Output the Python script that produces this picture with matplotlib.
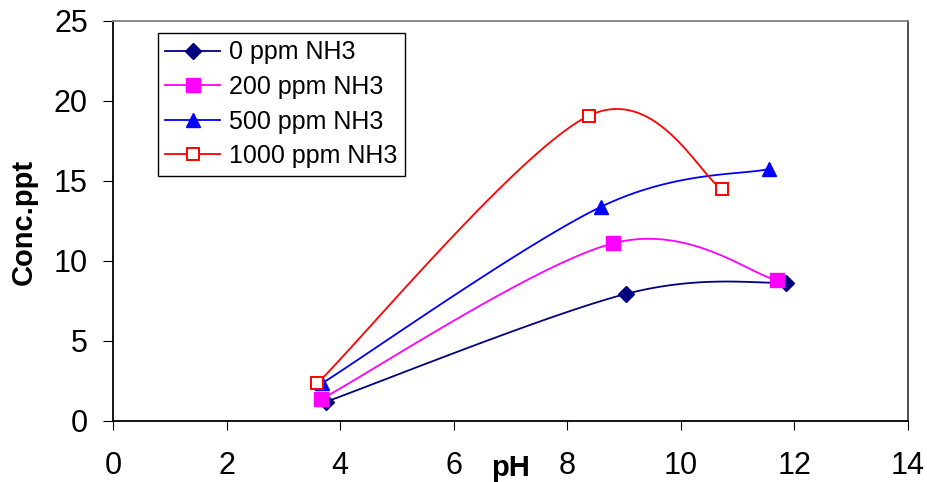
import numpy as np
import matplotlib
matplotlib.use('Agg')
import matplotlib.pyplot as plt

plt.rcParams['font.family'] = ['Liberation Sans', 'DejaVu Sans']

labels = ['0 ppm NH3', '200 ppm NH3', '500 ppm NH3', '1000 ppm NH3']

ph_0 = [3.75, 9.03, 11.85]
conc_0 = [1.2, 7.94, 8.65]

ph_200 = [3.66, 8.80, 11.69]
conc_200 = [1.35, 11.1, 8.8]

ph_500 = [3.68, 8.60, 11.55]
conc_500 = [2.35, 13.4, 15.75]

ph_1000 = [3.60, 8.38, 10.73]
conc_1000 = [2.36, 19.08, 14.48]

colors = ['#000080', '#ff00ff', '#0000ff', '#ff0000']
markers = ['D', 's', '^', 's']


def smooth(xs, ys, n=40):
    # excel style smoothed line: bezier segments, tangents from neighbours
    p = np.column_stack([xs, ys]).astype(float)
    pts = np.vstack([p[0], p, p[-1]])
    out = []
    t = np.linspace(0, 1, n)[:, None]
    for i in range(1, len(pts) - 2):
        p0, p1, p2, p3 = pts[i - 1], pts[i], pts[i + 1], pts[i + 2]
        c1 = p1 + (p2 - p0) / 6.0
        c2 = p2 - (p3 - p1) / 6.0
        seg = ((1 - t) ** 3) * p1 + 3 * ((1 - t) ** 2) * t * c1 + 3 * (1 - t) * t ** 2 * c2 + t ** 3 * p2
        out.append(seg)
    out = np.vstack(out)
    return out[:, 0], out[:, 1]


def marker_style(i):
    if i == 3:
        return dict(marker=markers[i], ms=8, mfc='white', mec=colors[i], mew=1.4)
    if i == 0:
        return dict(marker=markers[i], ms=8, mfc=colors[i], mec=colors[i])
    return dict(marker=markers[i], ms=9.5, mfc=colors[i], mec=colors[i])


fig = plt.figure(figsize=(9.28, 4.82), dpi=100)
ax = fig.add_axes([113 / 928, 61 / 482, 795 / 928, 400 / 482])

series = [(ph_0, conc_0), (ph_200, conc_200), (ph_500, conc_500), (ph_1000, conc_1000)]
handles = []
for i, (x, y) in enumerate(series):
    sx, sy = smooth(x, y)
    ax.plot(sx, sy, color=colors[i], lw=1.3, zorder=2)
    ax.plot(x, y, ls='none', zorder=3, **marker_style(i))
    h, = ax.plot([], [], color=colors[i], lw=1.3, **marker_style(i))
    handles.append(h)

leg = ax.legend(handles, labels, loc='upper left', bbox_to_anchor=(0.0566, 0.97), borderaxespad=0,
                fontsize=18, frameon=True, fancybox=False, shadow=False, framealpha=1,
                edgecolor='black', handlelength=2.2, handletextpad=0.35, labelspacing=0.42,
                borderpad=0.3)
leg.get_frame().set_linewidth(1.0)

ax.set_xlim(0, 14)
ax.set_ylim(0, 25)
ax.set_xticks(np.arange(0, 15, 2))
ax.set_yticks(np.arange(0, 26, 5))

ax.tick_params(axis='x', direction='out', length=6.5, width=0.8, pad=15, labelsize=22)
ax.tick_params(axis='y', direction='out', length=7, width=0.8, pad=11, labelsize=22)

for s in ['left', 'bottom']:
    ax.spines[s].set_linewidth(1.3)
    ax.spines[s].set_color('black')
ax.spines['top'].set_color('#808080')
ax.spines['top'].set_linewidth(1.3)
ax.spines['right'].set_color('#404040')
ax.spines['right'].set_linewidth(1.3)

ax.set_xlabel('pH', fontsize=21, fontweight='bold')
ax.xaxis.label.set_va('baseline')
ax.xaxis.set_label_coords(0.5, (421 - 476) / 400)

ax.set_ylabel('Conc.ppt', fontsize=21, fontweight='bold')
ax.yaxis.label.set_va('center')
ax.yaxis.set_label_coords((24 - 113) / 795, 0.4975)

fig.savefig('out.png', dpi=100)
